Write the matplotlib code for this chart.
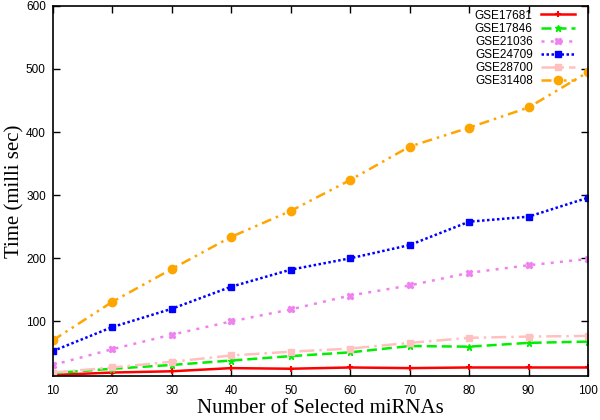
import matplotlib
matplotlib.use('Agg')
import matplotlib.pyplot as plt

# data
n_selected = [10, 20, 30, 40, 50, 60, 70, 80, 90, 100]
gse17681 = [15, 19, 21, 26, 25, 27, 26, 27, 27, 27]
gse17846 = [18, 25, 31, 38, 45, 51, 61, 60, 66, 68]
gse21036 = [31, 56, 79, 100, 119, 141, 157, 177, 189, 199]
gse24709 = [53, 91, 120, 155, 182, 200, 221, 258, 266, 296]
gse28700 = [19, 27, 36, 46, 52, 57, 66, 74, 76, 77]
gse31408 = [70, 131, 183, 234, 275, 324, 377, 407, 439, 495]

labels = ['GSE17681', 'GSE17846', 'GSE21036', 'GSE24709', 'GSE28700', 'GSE31408']
series = [gse17681, gse17846, gse21036, gse24709, gse28700, gse31408]

STYLES = [
	dict(color='#ff0000', ls='-', marker='+', ms=5, mew=1.5),
	dict(color='#00ee00', ls=(0, (4, 2)), marker='*', ms=5, mew=1),
	dict(color='#ee82ee', ls=(0, (1.2, 2.5)), marker='X', ms=5),
	dict(color='#0000ff', ls=(0, (1, 1)), marker='s', ms=5, mfc='#0000ff', mec='#0000ff'),
	dict(color='#ffc0c0', ls=(0, (6, 2, 1, 2)), marker='s', ms=4.5),
	dict(color='#ffa500', ls=(0, (4, 2, 1, 2, 1, 2)), marker='o', ms=6),
]

fig = plt.figure(figsize=(6, 4.2), dpi=100)
ax = fig.add_axes([0.088, 0.104, 0.892, 0.882])

for lab, y, st in zip(labels, series, STYLES):
	ax.plot(n_selected, y, label=lab, lw=1.8, **st)

ax.set_xlim(10, 100)
ax.set_ylim(13, 600)
ax.set_xticks(n_selected)
ax.set_yticks([100, 200, 300, 400, 500, 600])
ax.tick_params(direction='in', top=True, right=True, length=5, width=1, labelsize=8.5)
ax.tick_params(axis='x', pad=6)
ax.tick_params(axis='y', pad=5)
for lbl in ax.get_xticklabels() + ax.get_yticklabels():
	lbl.set_family('Liberation Sans')
for sp in ax.spines.values():
	sp.set_linewidth(1.2)

ax.set_xlabel('Number of Selected miRNAs', family='Liberation Serif', fontsize=15)
ax.set_ylabel('Time (milli sec)', family='Liberation Serif', fontsize=15)
ax.xaxis.set_label_coords(0.5, -0.062)
ax.yaxis.set_label_coords(-0.052, 0.5)

ax.legend(loc='upper right', frameon=False, markerfirst=False, numpoints=1,
		  prop={'family': 'Liberation Sans', 'size': 8.5},
		  labelspacing=0.1, handlelength=2.9, borderpad=0, borderaxespad=0,
		  handletextpad=0.7, bbox_to_anchor=(0.976, 0.99))

fig.savefig('out.png', dpi=100)
